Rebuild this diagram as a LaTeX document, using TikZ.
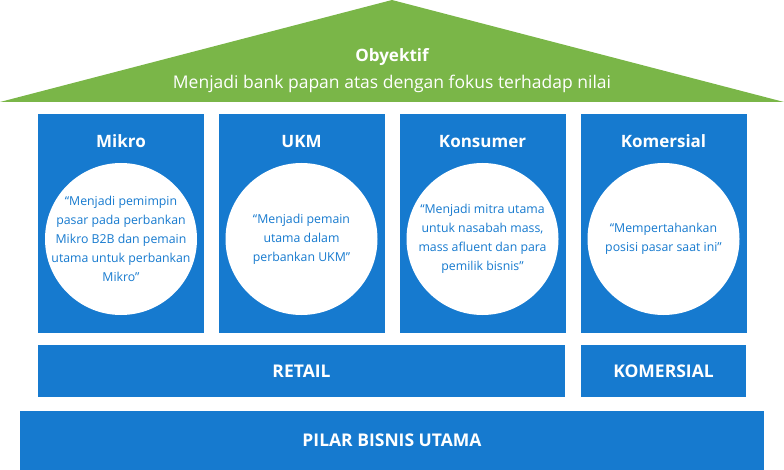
\documentclass[tikz,border=0pt]{standalone}
\usepackage{fontspec}
\setmainfont{Open Sans}
\usepackage{xcolor}
\usepackage{tikz}
\usetikzlibrary{shapes}
\definecolor{pillarblue}{RGB}{22, 122, 207}
\definecolor{roofgreen}{RGB}{122, 182, 72}

\begin{document}
\begin{tikzpicture}[x=1pt, y=-1pt, every node/.style={font=\fontsize{12}{19}\selectfont},
    pillar/.style={fill=pillarblue, minimum width=166pt, minimum height=219pt, inner sep=0pt},
    pillartitle/.style={text=white, anchor=base, font=\fontsize{17}{20}\selectfont\bfseries},
    bubble/.style={circle, fill=white, minimum size=152pt, inner sep=0pt},
    quote/.style={text=pillarblue, align=center, font=\fontsize{12.3}{19}\selectfont},
    bar/.style={fill=pillarblue, inner sep=0pt},
    bartext/.style={text=white, anchor=base, font=\fontsize{17.5}{20}\selectfont\bfseries}]
    \useasboundingbox (0,0) rectangle (784,470);

    % Roof
    \fill[roofgreen] (0,102) -- (392,0) -- (784,102) -- cycle;
    \node[text=white, anchor=base, font=\fontsize{17}{20}\selectfont\bfseries] (obyektif) at (392,62) {Obyektif};
    \node[text=white, anchor=base, font=\fontsize{17.5}{20}\selectfont] (nilai) at (392,89) {Menjadi bank papan atas dengan fokus terhadap nilai};

    % Pillars
    \foreach \name/\x/\title/\quotetext in {
        mikro/121/Mikro/{“Menjadi pemimpin\\pasar pada perbankan\\Mikro B2B dan pemain\\utama untuk perbankan\\Mikro”},
        ukm/301.5/UKM/{“Menjadi pemain\\utama dalam\\perbankan UKM”},
        konsumer/482.5/Konsumer/{“Menjadi mitra utama\\untuk nasabah mass,\\mass afluent dan para\\pemilik bisnis”},
        komersial/663.5/Komersial/{“Mempertahankan\\posisi pasar saat ini”}} {
        \node[pillar] (\name) at (\x,223.5) {};
        \node[pillartitle] (\name-title) at (\x,147.5) {\title};
        \node[bubble] (\name-circle) at (\x,239) {};
        \node[quote] (\name-quote) at (\name-circle) {\quotetext};
    }

    % Segments
    \node[bar, minimum width=527pt, minimum height=52pt] (retail) at (301.5,371) {};
    \node[bartext] (retail-text) at (301.5,377.5) {RETAIL};
    \node[bar, minimum width=165pt, minimum height=52pt] (komersialbar) at (663.5,371) {};
    \node[bartext] (komersialbar-text) at (663.5,377.5) {KOMERSIAL};

    % Base
    \node[bar, minimum width=744pt, minimum height=59pt] (pilar) at (392,440.5) {};
    \node[bartext] (pilar-text) at (392,446.5) {PILAR BISNIS UTAMA};
\end{tikzpicture}
\end{document}
